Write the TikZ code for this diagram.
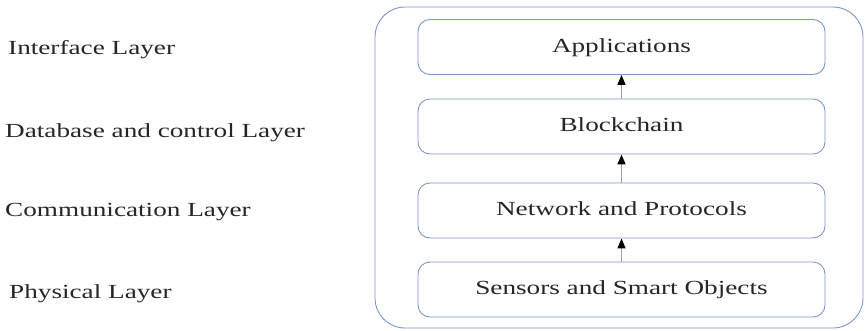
\documentclass[tikz,border=0pt]{standalone}
\usepackage{fontspec}
\setmainfont{Liberation Serif}
\newfontfamily\widefont[FakeStretch=1.36]{Liberation Serif}
\usetikzlibrary{arrows.meta}
\definecolor{boxblue}{RGB}{125,150,200}
\definecolor{linegray}{RGB}{160,160,160}
\begin{document}
\begin{tikzpicture}[x=1pt,y=-1pt,
  layerbox/.style={draw=boxblue,line width=0.9pt,rounded corners=12pt,minimum width=407pt,minimum height=55pt,font=\widefont\fontsize{20}{24}\selectfont,text=black!85,text height=14pt,text depth=4pt},
  sidelabel/.style={anchor=base west,font=\widefont\fontsize{20}{24}\selectfont,text=black!85,inner sep=0pt},
  uparrow/.style={draw=linegray,line width=1.5pt,-{Triangle[length=10pt,width=8pt,fill=black,color=black]}}]
\useasboundingbox (0,0) rectangle (865,330);
\draw[boxblue,line width=0.9pt,rounded corners=30pt] (375,7) rectangle (863,328);
\node[layerbox] (app) at (621.5,47) {Applications};
\node[layerbox] (bc) at (621.5,126.5) {Blockchain};
\node[layerbox] (net) at (621.5,210.5) {Network and Protocols};
\node[layerbox] (sen) at (621.5,289.5) {Sensors and Smart Objects};
\draw[uparrow] (bc.north) -- (app.south);
\draw[uparrow] (net.north) -- (bc.south);
\draw[uparrow] (sen.north) -- (net.south);
\node[sidelabel] (l1) at (8,54) {Interface Layer};
\node[sidelabel] (l2) at (5,137) {Database and control Layer};
\node[sidelabel] (l3) at (5,216) {Communication Layer};
\node[sidelabel] (l4) at (9,298) {Physical Layer};
\end{tikzpicture}
\end{document}
